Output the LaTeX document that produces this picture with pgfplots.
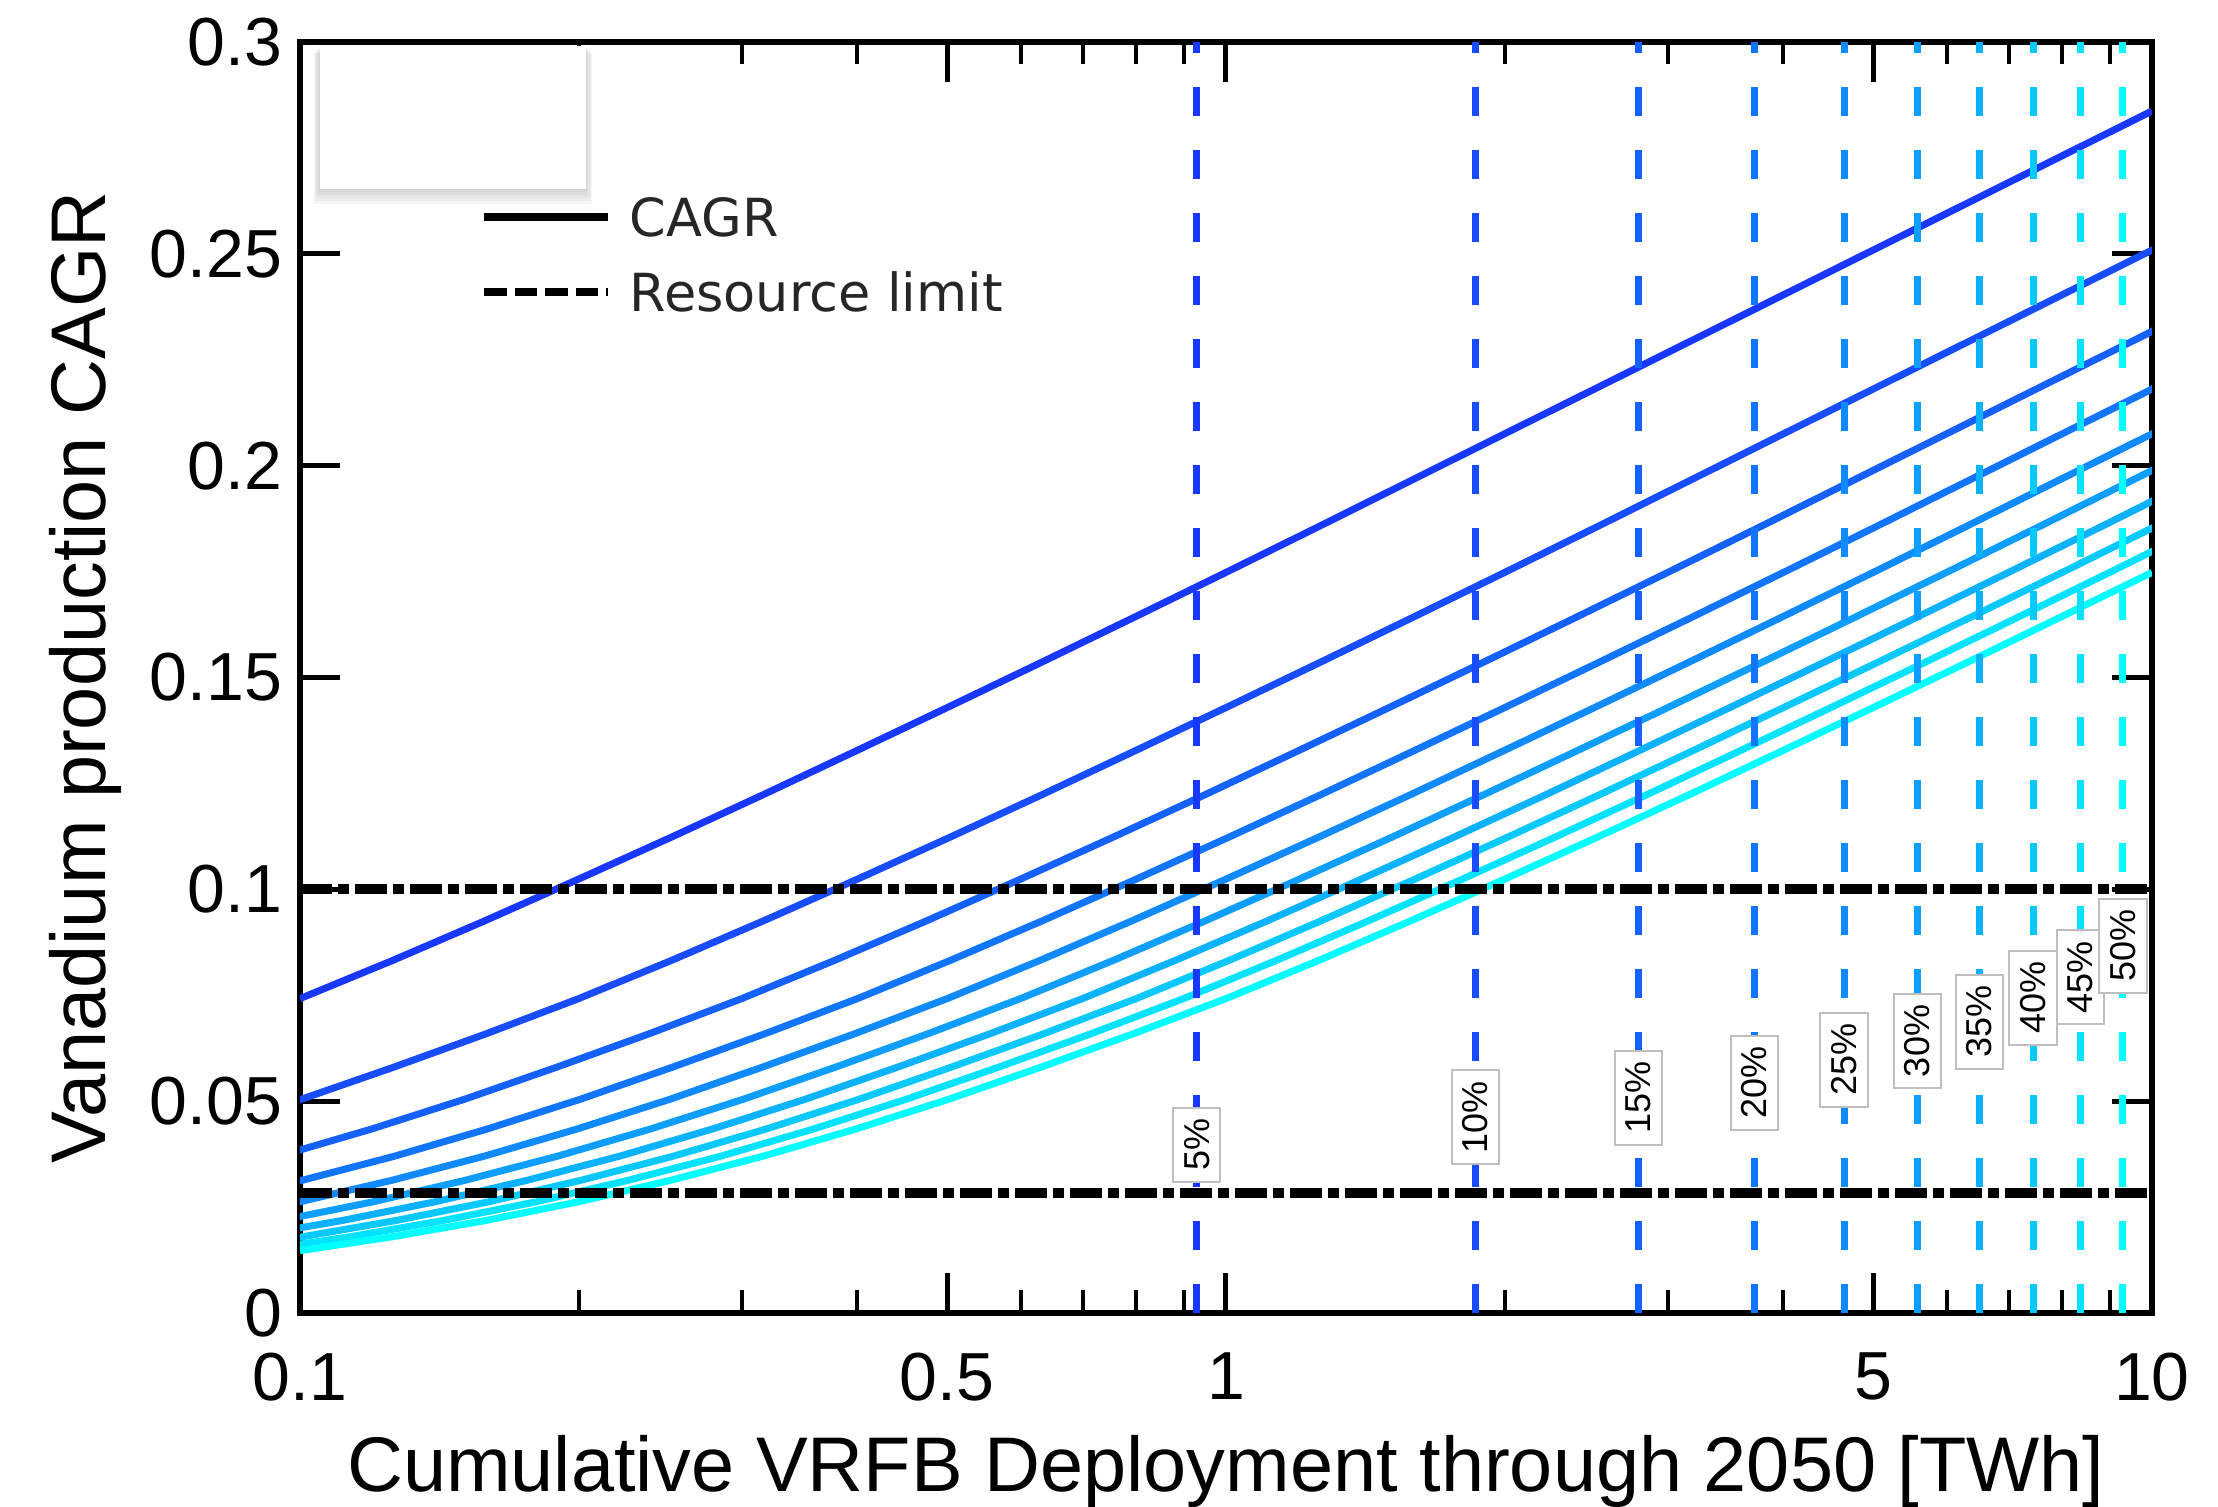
\documentclass[border=0pt]{standalone}
\usepackage{fontspec}
\setmainfont{Liberation Sans}
\newfontfamily\legfont{DejaVu Sans}
\usepackage{pgfplots}
\pgfplotsset{compat=1.18}
\definecolor{c1}{rgb}{0.10,0.22,1.00}
\definecolor{c2}{rgb}{0.09,0.30,1.00}
\definecolor{c3}{rgb}{0.08,0.38,1.00}
\definecolor{c4}{rgb}{0.07,0.46,1.00}
\definecolor{c5}{rgb}{0.06,0.54,1.00}
\definecolor{c6}{rgb}{0.05,0.62,1.00}
\definecolor{c7}{rgb}{0.04,0.70,1.00}
\definecolor{c8}{rgb}{0.03,0.79,1.00}
\definecolor{c9}{rgb}{0.01,0.89,1.00}
\definecolor{c10}{rgb}{0.00,1.00,1.00}
\begin{document}
\begin{tikzpicture}
\begin{axis}[name=ax, scale only axis, width=370.4pt, height=254.2pt,
  xmode=log, xmin=0.1, xmax=10, ymin=0, ymax=0.3,
  axis line style={line width=1.2pt, black},
  major tick style={line width=1pt, black}, minor tick style={line width=0.8pt, black},
  major tick length=8pt, minor tick length=4.5pt,
  ytick={0,0.05,0.1,0.15,0.2,0.25,0.3}, yticklabels={0,0.05,0.1,0.15,0.2,0.25,0.3},
  xtick={0.1,0.5,1,5,10}, xticklabels={0.1,0.5,1,5,10},
  minor xtick={0.2,0.3,0.4,0.6,0.7,0.8,0.9,2,3,4,6,7,8,9},
  tick label style={font=\fontsize{13.6}{16}\selectfont},
  xticklabel style={yshift=-4.5pt},
  xlabel={Cumulative VRFB Deployment through 2050 [TWh]},
  ylabel={Vanadium production CAGR},
  label style={font=\fontsize{15.5}{18}\selectfont},
  xlabel style={at={(axis description cs:0.5,-0.125)}, anchor=center},
  ylabel style={at={(axis description cs:-0.116,0.5)}, anchor=center},
]
% CAGR curves
\addplot[c1, line width=1.4pt] coordinates {(0.1,0.0742) (0.1259,0.0832) (0.1585,0.0926) (0.1995,0.1023) (0.2512,0.1122) (0.3162,0.1223) (0.3981,0.1326) (0.5012,0.1430) (0.6310,0.1535) (0.7943,0.1641) (1,0.1748) (1.259,0.1856) (1.585,0.1965) (1.995,0.2074) (2.512,0.2183) (3.162,0.2292) (3.981,0.2401) (5.012,0.2510) (6.310,0.2619) (7.943,0.2728) (10,0.2837)};
\addplot[c2, line width=1.4pt] coordinates {(0.0796,0.0434) (0.1002,0.0504) (0.1262,0.0580) (0.1589,0.0659) (0.2,0.0742) (0.2518,0.0832) (0.3170,0.0926) (0.3991,0.1023) (0.5024,0.1122) (0.6325,0.1223) (0.7962,0.1326) (1.0024,0.1430) (1.2619,0.1535) (1.5887,0.1641) (2,0.1748) (2.5179,0.1856) (3.1698,0.1965) (3.9905,0.2074) (5.0238,0.2183) (6.3246,0.2292) (7.9621,0.2401) (10.0237,0.2510)};
\addplot[c3, line width=1.4pt] coordinates {(0.09487,0.0370) (0.11943,0.0434) (0.15036,0.0504) (0.18929,0.0580) (0.23830,0.0659) (0.3,0.0742) (0.37768,0.0832) (0.47547,0.0926) (0.59858,0.1023) (0.75357,0.1122) (0.94868,0.1223) (1.19432,0.1326) (1.50356,0.1430) (1.89287,0.1535) (2.38298,0.1641) (3,0.1748) (3.7768,0.1856) (4.7547,0.1965) (5.9858,0.2074) (7.5357,0.2183) (9.4868,0.2292) (11.943,0.2401)};
\addplot[c4, line width=1.4pt] coordinates {(0.0798,0.0262) (0.1005,0.0313) (0.1265,0.0370) (0.1592,0.0434) (0.2005,0.0504) (0.2524,0.0580) (0.3177,0.0659) (0.4,0.0742) (0.5036,0.0832) (0.6340,0.0926) (0.7981,0.1023) (1.0048,0.1122) (1.2649,0.1223) (1.5924,0.1326) (2.0047,0.1430) (2.5238,0.1535) (3.1773,0.1641) (4,0.1748) (5.0357,0.1856) (6.3396,0.1965) (7.9811,0.2074) (10.0475,0.2183)};
\addplot[c5, line width=1.4pt] coordinates {(0.0792,0.0218) (0.0998,0.0262) (0.1256,0.0313) (0.1581,0.0370) (0.1991,0.0434) (0.2506,0.0504) (0.3155,0.0580) (0.3972,0.0659) (0.5,0.0742) (0.6295,0.0832) (0.7924,0.0926) (0.9976,0.1023) (1.2559,0.1122) (1.5811,0.1223) (1.9905,0.1326) (2.5059,0.1430) (3.1548,0.1535) (3.9716,0.1641) (5,0.1748) (6.2946,0.1856) (7.9245,0.1965) (9.9763,0.2074) (12.559,0.2183)};
\addplot[c6, line width=1.4pt] coordinates {(0.09509,0.0218) (0.11972,0.0262) (0.15071,0.0313) (0.18974,0.0370) (0.23886,0.0434) (0.30071,0.0504) (0.37857,0.0580) (0.47660,0.0659) (0.6,0.0742) (0.75536,0.0832) (0.95094,0.0926) (1.19716,0.1023) (1.50713,0.1122) (1.89737,0.1223) (2.38864,0.1326) (3.00713,0.1430) (3.78574,0.1535) (4.76597,0.1641) (6,0.1748) (7.5536,0.1856) (9.5094,0.1965) (11.972,0.2074)};
\addplot[c7, line width=1.4pt] coordinates {(0.08813,0.0180) (0.11094,0.0218) (0.13967,0.0262) (0.17583,0.0313) (0.22136,0.0370) (0.27868,0.0434) (0.35083,0.0504) (0.44167,0.0580) (0.55603,0.0659) (0.7,0.0742) (0.88125,0.0832) (1.10943,0.0926) (1.39669,0.1023) (1.75832,0.1122) (2.21359,0.1223) (2.78674,0.1326) (3.50831,0.1430) (4.41670,0.1535) (5.56030,0.1641) (7,0.1748) (8.8125,0.1856) (11.094,0.1965)};
\addplot[c8, line width=1.4pt] coordinates {(0.08,0.0147) (0.10071,0.0180) (0.12679,0.0218) (0.15962,0.0262) (0.20095,0.0313) (0.25298,0.0370) (0.31849,0.0434) (0.40095,0.0504) (0.50477,0.0580) (0.63546,0.0659) (0.8,0.0742) (1.00714,0.0832) (1.26792,0.0926) (1.59621,0.1023) (2.00951,0.1122) (2.52982,0.1223) (3.18484,0.1326) (4.00950,0.1430) (5.04766,0.1535) (6.35463,0.1641) (8,0.1748) (10.0714,0.1856)};
\addplot[c9, line width=1.4pt] coordinates {(0.09,0.0147) (0.11330,0.0180) (0.14264,0.0218) (0.17958,0.0262) (0.22607,0.0313) (0.28460,0.0370) (0.35830,0.0434) (0.45107,0.0504) (0.56786,0.0580) (0.71489,0.0659) (0.9,0.0742) (1.13303,0.0832) (1.42641,0.0926) (1.79573,0.1023) (2.26070,0.1122) (2.84605,0.1223) (3.58295,0.1326) (4.51069,0.1430) (5.67862,0.1535) (7.14896,0.1641) (9,0.1748) (11.3303,0.1856)};
\addplot[c10, line width=1.4pt] coordinates {(0.1,0.0147) (0.12589,0.0180) (0.15849,0.0218) (0.19953,0.0262) (0.25119,0.0313) (0.31623,0.0370) (0.39811,0.0434) (0.50119,0.0504) (0.63096,0.0580) (0.79433,0.0659) (1,0.0742) (1.2589,0.0832) (1.5849,0.0926) (1.9953,0.1023) (2.5119,0.1122) (3.1623,0.1223) (3.9811,0.1326) (5.0119,0.1430) (6.3096,0.1535) (7.9433,0.1641) (10,0.1748)};
% vertical share lines
\pgfplotsset{vline/.style={line width=1.4pt, dash pattern=on 5.8pt off 6.8pt}}
\addplot[c1, vline] coordinates {(0.93,0) (0.93,0.3)};
\addplot[c2, vline] coordinates {(1.86,0) (1.86,0.3)};
\addplot[c3, vline] coordinates {(2.79,0) (2.79,0.3)};
\addplot[c4, vline] coordinates {(3.72,0) (3.72,0.3)};
\addplot[c5, vline] coordinates {(4.65,0) (4.65,0.3)};
\addplot[c6, vline] coordinates {(5.58,0) (5.58,0.3)};
\addplot[c7, vline] coordinates {(6.51,0) (6.51,0.3)};
\addplot[c8, vline] coordinates {(7.44,0) (7.44,0.3)};
\addplot[c9, vline] coordinates {(8.37,0) (8.37,0.3)};
\addplot[c10, vline] coordinates {(9.30,0) (9.30,0.3)};
% resource limits
\addplot[black, line width=2pt, dash pattern=on 6.4pt off 1.2pt on 2.2pt off 1.2pt] coordinates {(0.1,0.1) (10,0.1)};
\addplot[black, line width=2pt, dash pattern=on 6.4pt off 1.2pt on 2.2pt off 1.2pt] coordinates {(0.1,0.0284) (10,0.0284)};
% share labels
\tikzset{plab/.style={rotate=90, draw=black!25, line width=0.4pt, fill=white, inner sep=2.2pt, font=\fontsize{7.2}{8}\selectfont}}
\node[plab] at (axis cs:0.93,0.0397) {5\%};
\node[plab] at (axis cs:1.86,0.0462) {10\%};
\node[plab] at (axis cs:2.79,0.0508) {15\%};
\node[plab] at (axis cs:3.72,0.0543) {20\%};
\node[plab] at (axis cs:4.65,0.0598) {25\%};
\node[plab] at (axis cs:5.58,0.0642) {30\%};
\node[plab] at (axis cs:6.51,0.0687) {35\%};
\node[plab] at (axis cs:7.44,0.0744) {40\%};
\node[plab] at (axis cs:8.37,0.0792) {45\%};
\node[plab] at (axis cs:9.30,0.0867) {50\%};
% legend
\draw[black, line width=1.6pt] (rel axis cs:0.0994,0.8623) -- (rel axis cs:0.1663,0.8623);
\node[anchor=west, inner sep=0pt, text=black!85, font=\legfont\fontsize{10.5}{12}\selectfont] at (rel axis cs:0.1776,0.8623) {CAGR};
\draw[black, line width=1.6pt, dash pattern=on 4.5pt off 1.6pt] (rel axis cs:0.0994,0.8035) -- (rel axis cs:0.1663,0.8035);
\node[anchor=west, inner sep=0pt, text=black!85, font=\legfont\fontsize{10.5}{12}\selectfont] at (rel axis cs:0.1776,0.8035) {Resource limit};
% empty box with soft shadow
\fill[black, opacity=0.035] ([xshift=-0.25pt, yshift=-0.6pt]rel axis cs:0.0108,0.8843) rectangle ([xshift=0.25pt, yshift=-0.3pt]rel axis cs:0.1544,0.9969);
\fill[black, opacity=0.035] ([xshift=-0.5pt, yshift=-1.2pt]rel axis cs:0.0108,0.8843) rectangle ([xshift=0.5pt, yshift=-0.6pt]rel axis cs:0.1544,0.9969);
\fill[black, opacity=0.035] ([xshift=-0.75pt, yshift=-1.8pt]rel axis cs:0.0108,0.8843) rectangle ([xshift=0.75pt, yshift=-0.9pt]rel axis cs:0.1544,0.9969);
\fill[black, opacity=0.035] ([xshift=-1pt, yshift=-2.4pt]rel axis cs:0.0108,0.8843) rectangle ([xshift=1pt, yshift=-1.2pt]rel axis cs:0.1544,0.9969);
\fill[black, opacity=0.035] ([xshift=-1.25pt, yshift=-3pt]rel axis cs:0.0108,0.8843) rectangle ([xshift=1.25pt, yshift=-1.5pt]rel axis cs:0.1544,0.9969);
\fill[white] (rel axis cs:0.0108,0.8843) rectangle (rel axis cs:0.1544,0.9969);
\end{axis}
\pgfresetboundingbox
\path[use as bounding box] ([xshift=-60pt,yshift=-38.8pt]ax.south west) rectangle ([xshift=13.2pt,yshift=8.4pt]ax.north east);
\end{tikzpicture}
\end{document}
